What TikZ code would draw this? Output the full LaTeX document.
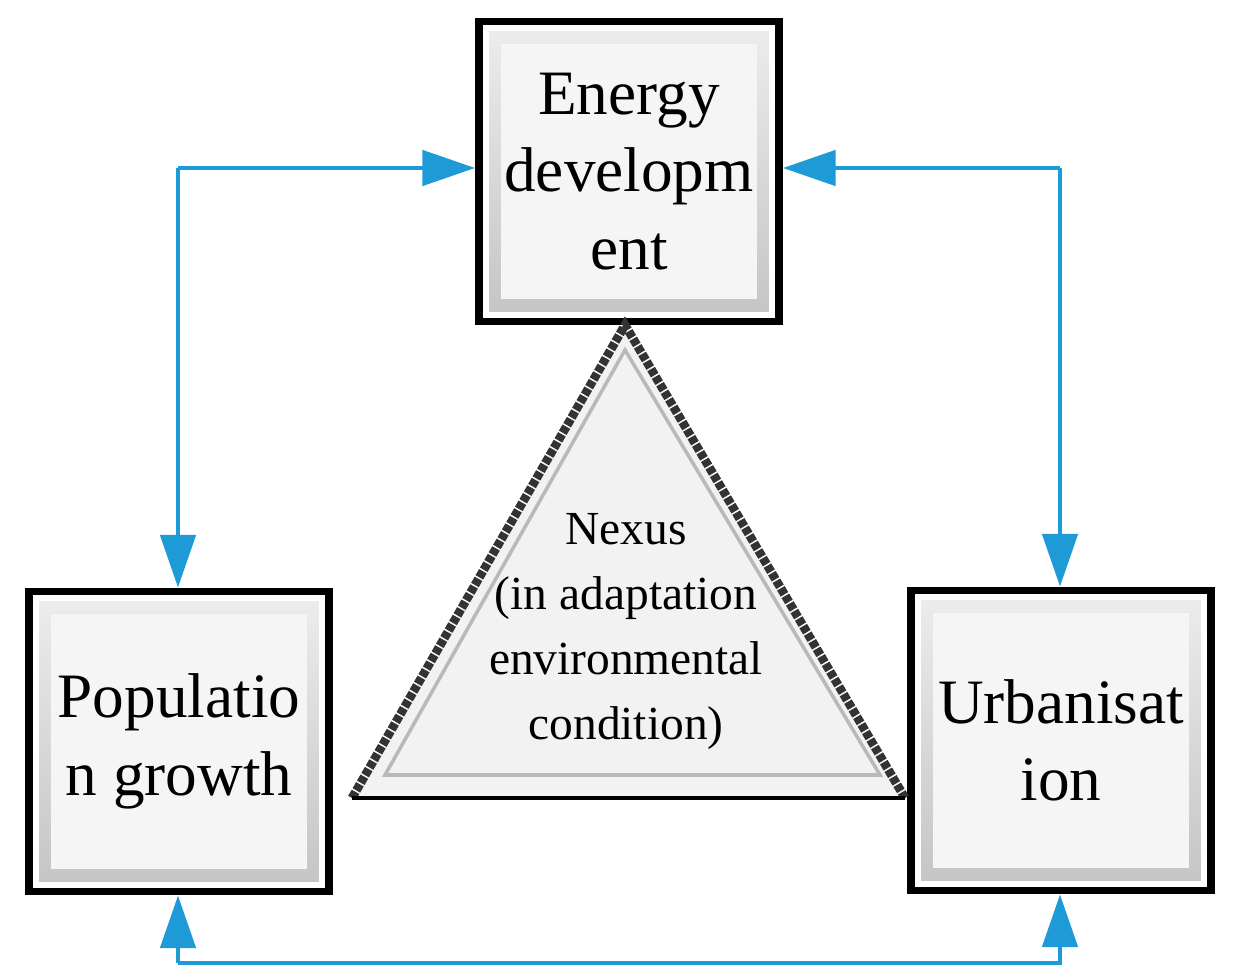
\documentclass[tikz,border=0pt]{standalone}
\usepackage{fontspec}
\setmainfont{Liberation Serif}
\usetikzlibrary{arrows.meta}
\definecolor{ablue}{HTML}{1E9BD7}
\begin{document}
\begin{tikzpicture}[x=0.02cm,y=-0.02cm,
  box/.style={draw=black,line width=4.5pt,fill=white,minimum width=300*0.02cm,minimum height=300*0.02cm,inner sep=0pt},
  txt/.style={font=\fontsize{36}{44}\selectfont,align=center},
  con/.style={draw=ablue,line width=2.5pt,-{Triangle[length=30pt,width=20pt]}}]
\useasboundingbox (0,0) rectangle (1237,979);
% boxes
\node[box] (E) at (629,171.5) {};
\node[box] (P) at (179,741.5) {};
\node[box] (U) at (1061,740.5) {};
\foreach \n in {E,P,U}{
  \shade[top color=gray!15,bottom color=gray!45] ([shift={(14,-14)}]\n.south west) rectangle ([shift={(-14,14)}]\n.north east);
  \fill[gray!8] ([shift={(26,-26)}]\n.south west) rectangle ([shift={(-26,26)}]\n.north east);
}
\node[txt] (Et) at (E) {Energy\\developm\\ent};
\node[txt] (Pt) at (P) {Populatio\\n growth};
\node[txt] (Ut) at (U) {Urbanisat\\ion};
% triangle
\coordinate (A) at (625,325);
\coordinate (L) at (352,798);
\coordinate (R) at (905,798);
\fill[gray!10] (A) -- (L) -- (R) -- cycle;
\draw[gray!55,line width=2pt] (625,350) -- (385,775) -- (880,775) -- cycle;
\draw[black!80,line width=5pt,dash pattern=on 4pt off 1pt] (L) -- (A) -- (R);
\draw[black,line width=2pt] (L) -- (R);
\node[font=\fontsize{27}{37}\selectfont,align=center] (N) at (626,632) {Nexus\\(in adaptation\\environmental\\condition)};
% connectors
\coordinate (c1) at (178,168);
\coordinate (c2) at (1060,168);
\coordinate (c3) at (178,963);
\coordinate (c4) at (1060,963);
\draw[con] (c1) -- (E.west |- c1);
\draw[con] (c1) -- (P.north -| c1);
\draw[con] (c2) -- (E.east |- c2);
\draw[con] (c2) -- (U.north -| c2);
\draw[con] (c3) -- (c4) -- (U.south -| c4);
\draw[con] (c3) -- (P.south -| c3);
\end{tikzpicture}
\end{document}
